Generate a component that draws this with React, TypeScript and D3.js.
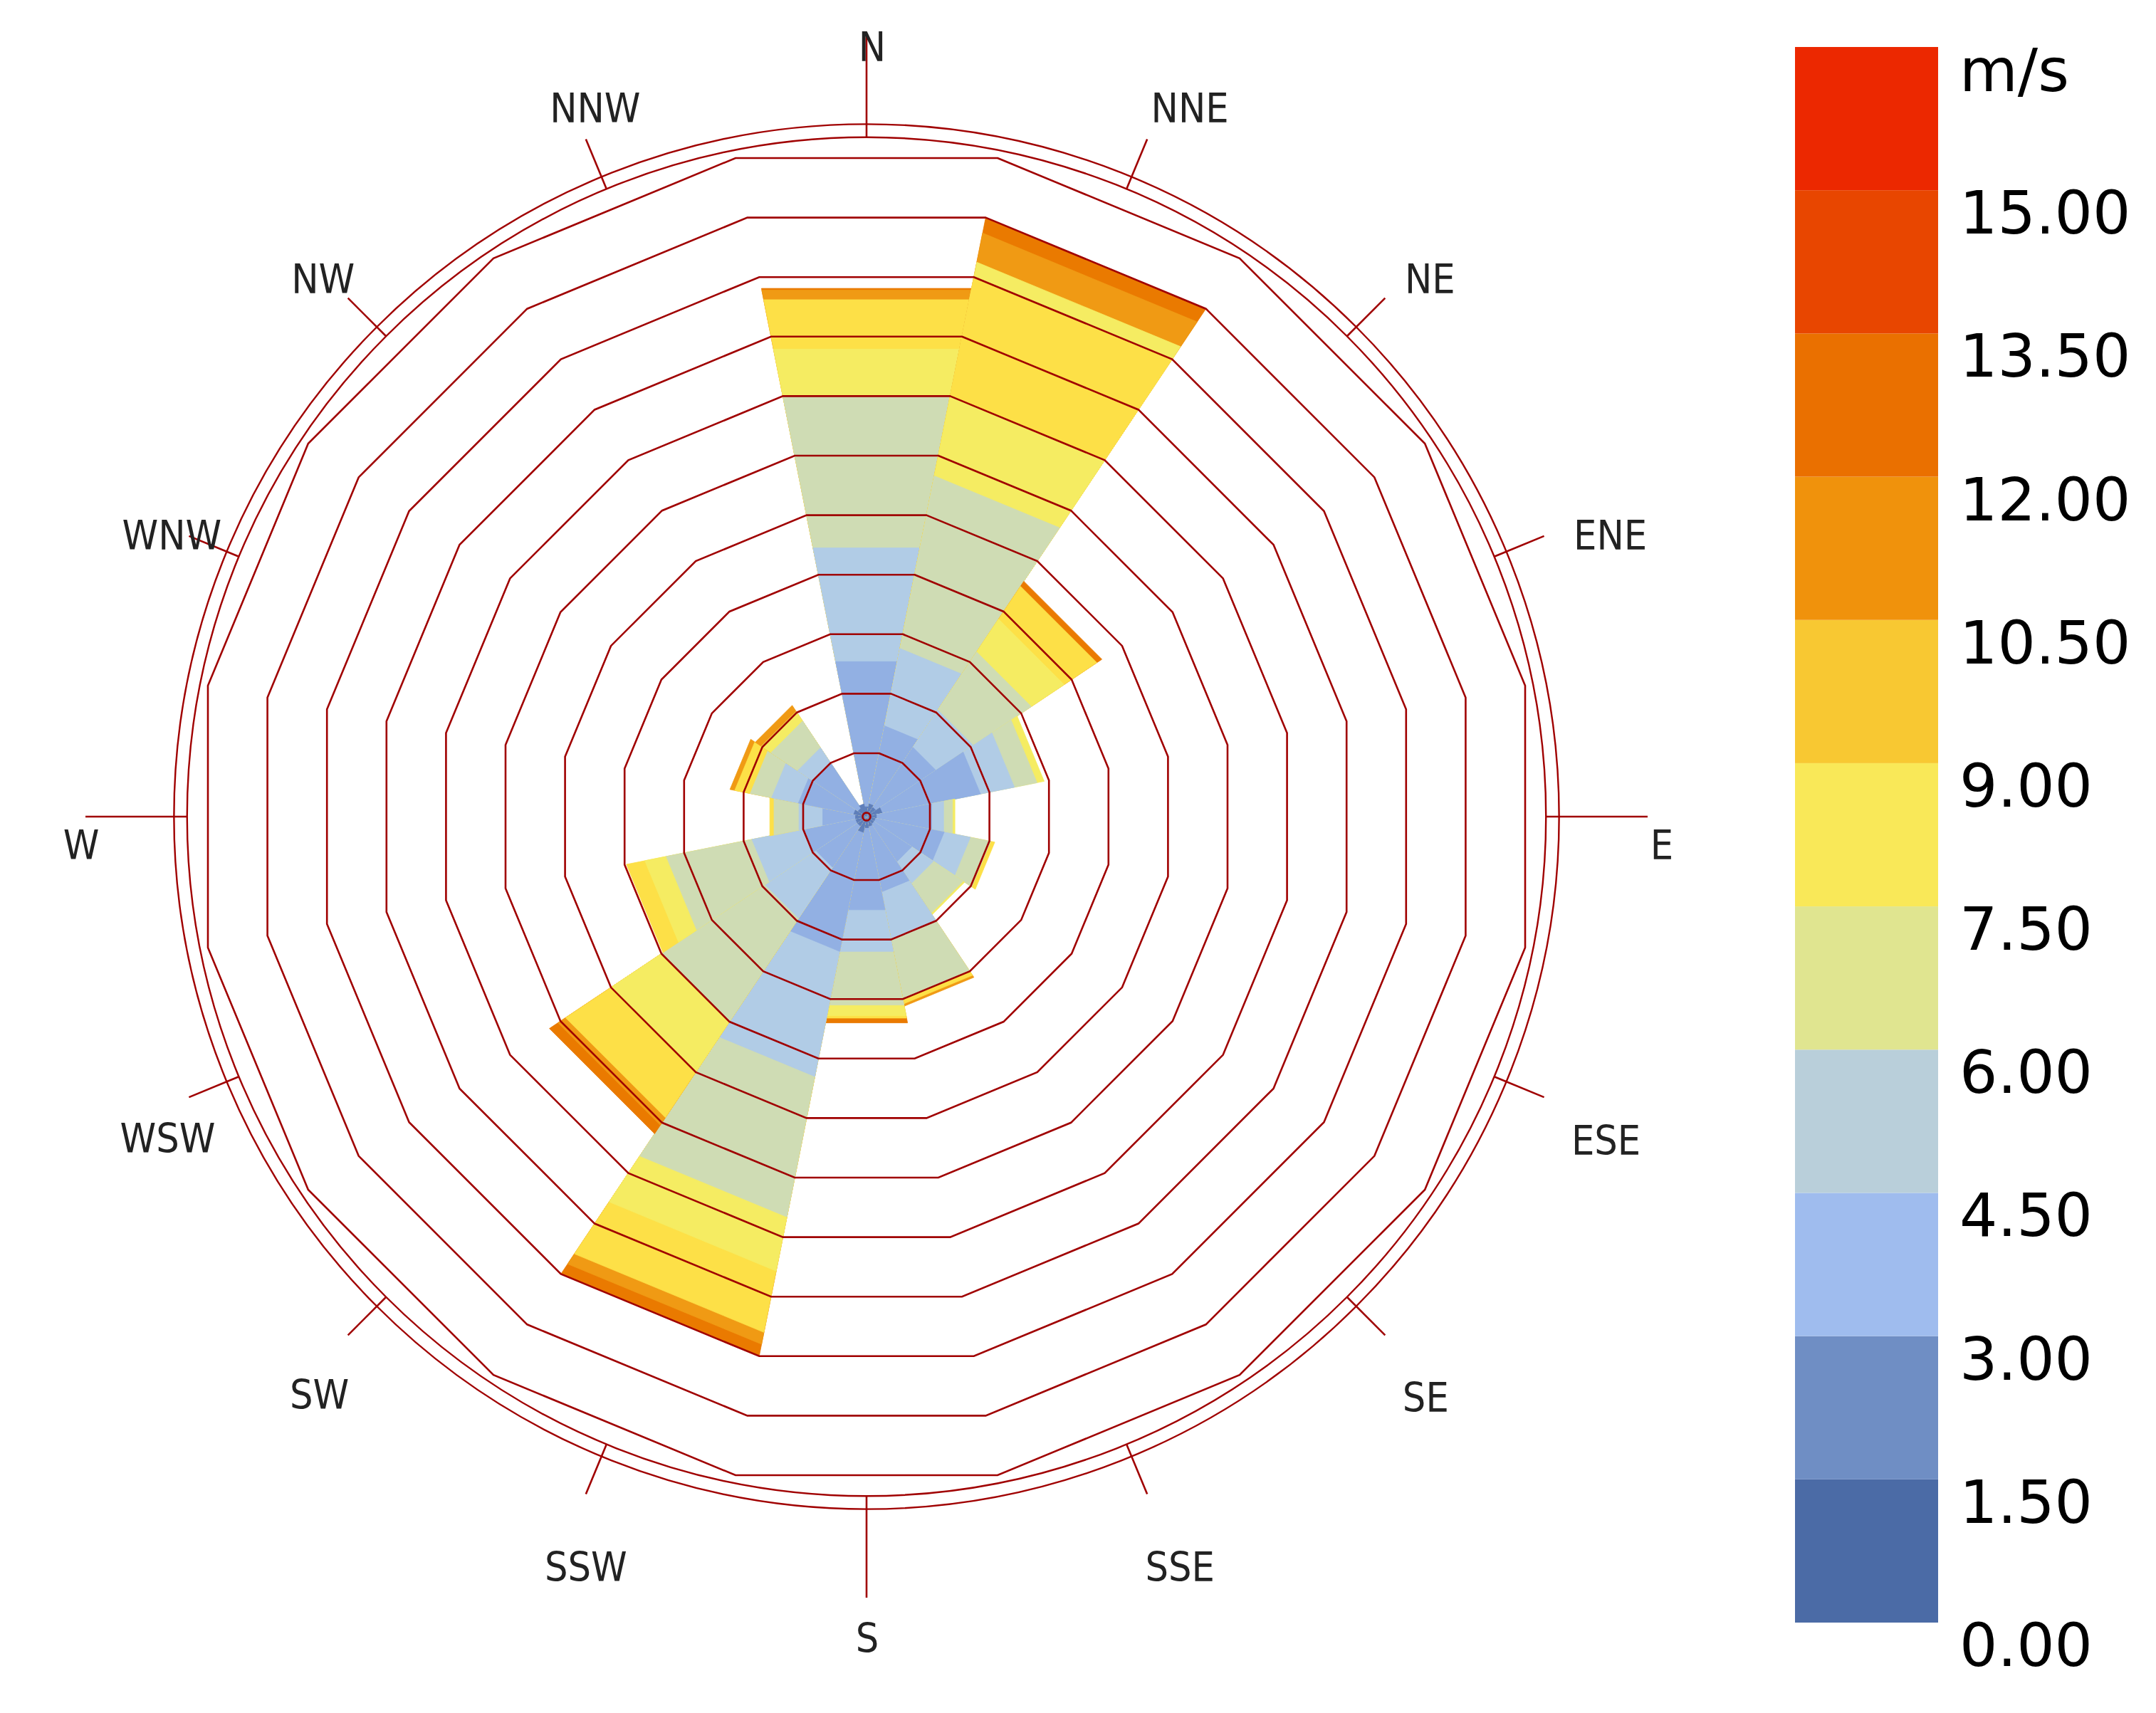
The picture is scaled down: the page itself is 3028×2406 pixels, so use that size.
import React from "react";
import * as d3 from "d3";

// compass sectors, clockwise from north
const directions = ["N", "NNE", "NE", "ENE", "E", "ESE", "SE", "SSE", "S", "SSW", "SW", "WSW", "W", "WNW", "NW", "NNW"];

// outer edge of every band per sector, in ring units
const bandEdges: number[][] = [
  [0.1, 2.54, 4.45, 7.0, 7.79, 8.62, 8.78, 8.81],
  [0.15, 1.46, 2.76, 5.66, 7.0, 9.0, 9.25, 9.74, 10],
  [0.12, 1.31, 2.05, 3.2, 3.85, 4.5, 4.6],
  [0.2, 1.85, 2.42, 2.8, 2.92],
  [0.1, 1.03, 1.23, 1.38, 1.42],
  [0.08, 1.24, 1.68, 2.02, 2.09],
  [0.08, 0.83, 1.26, 1.85, 1.88],
  [0.1, 1.2, 2.01, 3.0, 3.08, 3.12],
  [0.12, 1.5, 2.2, 3.1, 3.28, 3.32, 3.4],
  [0.2, 2.2, 4.3, 6.66, 7.57, 8.6, 8.8, 9.0],
  [0.12, 0.94, 1.95, 4.0, 5.0, 5.9, 6.05, 6.22],
  [0.12, 1.0, 1.86, 3.3, 3.66, 3.97],
  [0.12, 0.67, 1.07, 1.49, 1.56],
  [0.15, 1.08, 1.53, 1.89, 2.15, 2.23],
  [0.1, 1.0, 1.3, 1.83, 2.02, 2.14],
  [0.15],
];

// speed class of every band above
const bandLevels: number[][] = [
  [1, 2, 3, 4, 5, 6, 7, 8],
  [1, 2, 3, 4, 5, 6, 5, 7, 8],
  [1, 2, 3, 4, 5, 6, 8],
  [1, 2, 3, 4, 5],
  [1, 2, 3, 4, 5],
  [1, 2, 3, 4, 6],
  [1, 2, 3, 4, 5],
  [1, 2, 3, 4, 6, 7],
  [1, 2, 3, 4, 5, 6, 8],
  [1, 2, 3, 4, 5, 6, 7, 8],
  [1, 2, 3, 4, 5, 6, 7, 8],
  [1, 2, 3, 4, 5, 6],
  [1, 2, 3, 4, 6],
  [1, 2, 3, 4, 6, 7],
  [1, 2, 3, 4, 5, 7],
  [1],
];

const ringValues = [0, 1, 2, 3, 4, 5, 6, 7, 8, 9, 10, 11];
const circleValues = [11.35, 11.57];

const legendTicks = [0, 1.5, 3, 4.5, 6, 7.5, 9, 10.5, 12, 13.5, 15];
const legendColors = ["#4b6ba6", "#6f8ec4", "#9fbcee", "#b9cfda", "#e0e590", "#f9e858", "#f8c832", "#f0920c", "#ea7000", "#e84600", "#ec2800"];
const plotColors = ["#4b6ba6", "#5f7fba", "#92b0e3", "#b1cce6", "#cfdcb4", "#f5ec62", "#fde047", "#f09a14", "#ea7a00"];

const labelNudges = [
  [8, 36], [60, -23], [63, -7], [93, 19], [20, 60], [87, 81], [57, 108], [46, 122],
  [1, 77], [0, 122], [-40, 104], [-30, 78], [-6, 60], [-24, 19], [-35, -7], [13, -23],
];

const WIDTH = 3028;
const HEIGHT = 2406;
const CX = 1217;
const CY = 1147;
const LINE = "#a00000";

const step = (2 * Math.PI) / directions.length;
const halfStep = step / 2;

const r = d3.scaleLinear().domain([0, 11]).range([5.4, 925]);
const legendY = d3.scaleLinear().domain([0, 16.5]).range([2279, 66]);

const radial = d3
  .lineRadial<[number, number]>()
  .angle((d) => d[0])
  .radius((d) => d[1])
  .curve(d3.curveLinearClosed);

const wedge = (i: number, edge: number) => {
  const far = r(edge) / Math.cos(halfStep);
  return radial([
    [0, 0],
    [i * step - halfStep, far],
    [i * step + halfStep, far],
  ]);
};

const ring = (value: number) =>
  radial(directions.map((_, i) => [i * step + halfStep, r(value) / Math.cos(halfStep)] as [number, number]));

const polar = (angle: number, radius: number) => [radius * Math.sin(angle), -radius * Math.cos(angle)];

const App: React.FC = () => {
  return (
    <svg width={WIDTH} height={HEIGHT} style={{ position: "absolute", left: 0, top: 0, background: "#fff" }}>
      <g transform={`translate(${CX},${CY})`}>
        {bandEdges.map((edges, i) =>
          // outermost first, the inner bands paint over it
          edges
            .map((edge, j) => {
              const color = plotColors[bandLevels[i][j]];
              return <path key={`${i}-${j}`} d={wedge(i, edge)!} fill={color} stroke={color} strokeWidth={0.8} />;
            })
            .reverse()
        )}
        {ringValues.map((v) => (
          <path key={v} d={ring(v)!} fill="none" stroke={LINE} strokeWidth={2.6} />
        ))}
        {circleValues.map((v) => (
          <circle key={v} r={r(v)} fill="none" stroke={LINE} strokeWidth={2.4} />
        ))}
        {directions.map((name, i) => {
          const angle = i * step;
          const outer = i % 4 === 0 ? 1097 : 1030;
          const [x1, y1] = polar(angle, r(circleValues[0]));
          const [x2, y2] = polar(angle, outer);
          return (
            <g key={name}>
              <line x1={x1} y1={y1} x2={x2} y2={y2} stroke={LINE} strokeWidth={2.6} />
              <text
                x={x2 + labelNudges[i][0]}
                y={y2 + labelNudges[i][1]}
                textAnchor="middle"
                fontFamily="'DejaVu Sans Condensed', 'DejaVu Sans', sans-serif"
                fontSize={57}
                fill="#222"
              >
                {name}
              </text>
            </g>
          );
        })}
      </g>

      <g>
        {legendColors.map((color, i) => (
          <rect
            key={color}
            x={2521}
            y={legendY(i * 1.5 + 1.5)}
            width={201}
            height={legendY(i * 1.5) - legendY(i * 1.5 + 1.5)}
            fill={color}
          />
        ))}
        <g fontFamily="'DejaVu Sans', sans-serif" fontSize={84} fill="#000">
          <text x={2752} y={128}>m/s</text>
          {legendTicks.map((t) => (
            <text key={t} x={2752} y={legendY(t) + 61}>
              {t.toFixed(2)}
            </text>
          ))}
        </g>
      </g>
    </svg>
  );
};

export default App;
